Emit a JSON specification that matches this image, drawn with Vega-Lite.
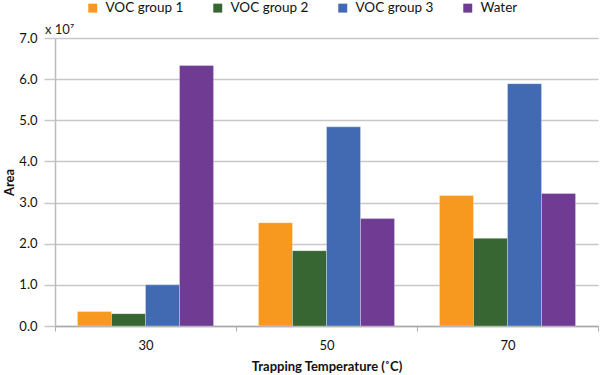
{
  "$schema": "https://vega.github.io/schema/vega-lite/v6.json",
  "width": 543,
  "height": 288,
  "autosize": {"type": "none"},
  "padding": {"left": 55, "top": 38, "right": 2, "bottom": 49},
  "background": "white",
  "config": {
    "font": "Lato",
    "view": {"stroke": null}
  },
  "title": {
    "text": "x 10⁷",
    "anchor": "start",
    "frame": "group",
    "dx": -10,
    "dy": 36,
    "offset": 0,
    "fontSize": 13,
    "fontWeight": "normal",
    "color": "#222"
  },
  "data": {
    "values": [
      {"temp": "30", "group": "VOC group 1", "area": 3500000},
      {"temp": "30", "group": "VOC group 2", "area": 3000000},
      {"temp": "30", "group": "VOC group 3", "area": 10000000},
      {"temp": "30", "group": "Water", "area": 63300000},
      {"temp": "50", "group": "VOC group 1", "area": 25100000},
      {"temp": "50", "group": "VOC group 2", "area": 18300000},
      {"temp": "50", "group": "VOC group 3", "area": 48400000},
      {"temp": "50", "group": "Water", "area": 26100000},
      {"temp": "70", "group": "VOC group 1", "area": 31700000},
      {"temp": "70", "group": "VOC group 2", "area": 21300000},
      {"temp": "70", "group": "VOC group 3", "area": 58900000},
      {"temp": "70", "group": "Water", "area": 32200000}
    ]
  },
  "mark": {"type": "bar", "stroke": "white", "strokeWidth": 0.6, "strokeOpacity": 0.5},
  "encoding": {
    "x": {
      "field": "temp",
      "type": "nominal",
      "sort": null,
      "scale": {"paddingInner": 0, "paddingOuter": 0},
      "axis": {
        "title": "Trapping Temperature (˚C)",
        "titleFontSize": 13,
        "titleFontWeight": "bold",
        "titleColor": "#111",
        "titlePadding": 8,
        "labelAngle": 0,
        "labelFontSize": 13,
        "labelColor": "#111",
        "labelPadding": 8,
        "tickBand": "extent",
        "tickSize": 5,
        "tickColor": "#aaa",
        "domainColor": "#aaa",
        "domainWidth": 1.5
      }
    },
    "xOffset": {
      "field": "group",
      "type": "nominal",
      "scale": {"paddingInner": 0, "paddingOuter": 0.66}
    },
    "y": {
      "field": "area",
      "type": "quantitative",
      "scale": {"domain": [0, 70000000], "nice": false},
      "axis": {
        "title": "Area",
        "titleFontSize": 13,
        "titleFontWeight": "bold",
        "titleColor": "#111",
        "titlePadding": 2,
        "values": [0, 10000000, 20000000, 30000000, 40000000, 50000000, 60000000, 70000000],
        "labelExpr": "format(datum.value / 10000000, '.1f')",
        "labelFontSize": 13,
        "labelColor": "#111",
        "labelPadding": 7,
        "tickSize": 11,
        "tickColor": "#c8c8c8",
        "tickWidth": 1.5,
        "gridColor": "#c8c8c8",
        "gridWidth": 1.5,
        "domainColor": "#bbb",
        "domainWidth": 1.5
      }
    },
    "color": {
      "field": "group",
      "type": "nominal",
      "scale": {
        "domain": ["VOC group 1", "VOC group 2", "VOC group 3", "Water"],
        "range": ["#F7991F", "#376632", "#416AB3", "#6F3B93"]
      },
      "legend": {
        "title": null,
        "orient": "none",
        "legendX": 31,
        "legendY": -37,
        "direction": "horizontal",
        "symbolType": "square",
        "symbolSize": 80,
        "symbolStrokeWidth": 0,
        "labelFontSize": 13.5,
        "labelColor": "#111",
        "columnPadding": 27,
        "labelOffset": 6
      }
    }
  }
}
